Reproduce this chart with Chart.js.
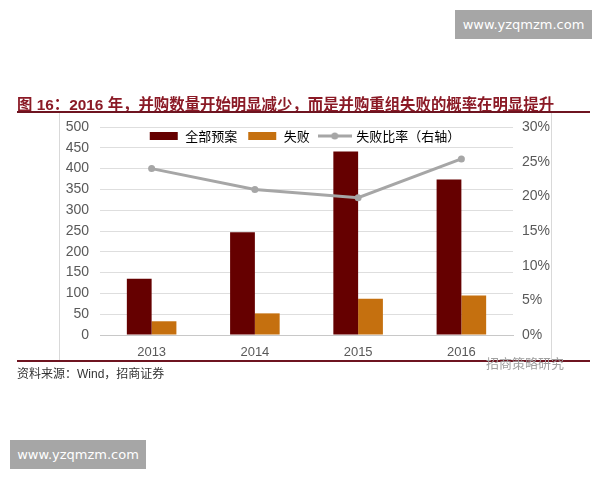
<!DOCTYPE html>
<html lang="zh">
<head>
    <meta charset="UTF-8">
    <title>并购重组</title>
    <script src="https://cdn.jsdelivr.net/npm/chart.js"></script>
    <style>
        body { margin: 0; background: #fff; }
        #wrap { position: relative; width: 600px; height: 480px; overflow: hidden;
                font-family: "Liberation Sans", "Noto Sans CJK SC", sans-serif; }
        #wrap canvas { position: absolute; left: 0; top: 0; }
        .abs { position: absolute; }
        .frame { left: 59px; top: 113px; width: 491px; height: 247px; border: 1px solid #d9d9d9; border-top: none; }
        .rule { left: 17px; width: 573px; height: 2px; background: #6e1420; }
        .title { left: 17px; top: 92px; font-size: 15.4px; font-weight: bold; color: #8b1a26; white-space: nowrap; }
        .source { left: 17px; top: 364px; font-size: 12px; color: #333; }
        .mark { left: 486px; top: 353px; font-size: 13px; color: #a0a0a0; }
        .site { background: #a6a6a6; color: #fff; font-family: "DejaVu Sans", sans-serif; font-size: 13px;
                line-height: 29px; text-align: center; height: 29px; }
    </style>
</head>
<body>
<div id="wrap">
    <div class="abs frame"></div>
    <canvas id="mnaChart" width="600" height="480"></canvas>
    <div class="abs title">图 16：2016 年，并购数量开始明显减少，而是并购重组失败的概率在明显提升</div>
    <div class="abs rule" style="top:111px"></div>
    <div class="abs rule" style="top:360px"></div>
    <div class="abs source">资料来源：Wind，招商证券</div>
    <div class="abs mark">招商策略研究</div>
    <div class="abs site" style="left:455px; top:10px; width:137px">www.yzqmzm.com</div>
    <div class="abs site" style="left:10px; top:440px; width:136px">www.yzqmzm.com</div>
</div>

<script>
// values
const years = ['2013', '2014', '2015', '2016'];
const allPlans = [135, 247, 441, 374];
const failed = [33, 52, 87, 95];
const failRate = [24.0, 21.0, 19.8, 25.4];
const seriesNames = ['全部预案', '失败', '失败比率（右轴）'];

const darkRed = '#650000';
const orange = '#c5700f';
const grey = '#a6a6a6';

function legendIcon(kind, color) {
    const c = document.createElement('canvas');
    c.width = 34; c.height = 10;
    const g = c.getContext('2d');
    if (kind === 'rect') {
        g.fillStyle = color;
        g.fillRect(3, 1, 28, 8);
    } else {
        g.strokeStyle = color;
        g.lineWidth = 3;
        g.beginPath(); g.moveTo(0, 5); g.lineTo(34, 5); g.stroke();
        g.fillStyle = color;
        g.beginPath(); g.arc(17, 5, 3.5, 0, Math.PI * 2); g.fill();
    }
    return c;
}
const icons = [legendIcon('rect', darkRed), legendIcon('rect', orange), legendIcon('line', grey)];

// legend sits inside the plot area in the original
const legendInside = {
    id: 'legendInside',
    afterLayout(chart) {
        const lg = chart.legend;
        const dy = 136 - (lg.top + lg.height / 2);
        const dx = 8;
        lg.top += dy; lg.bottom += dy;
        lg.left += dx; lg.right += dx;
    }
};

Chart.defaults.font.family = '"Liberation Sans", "Noto Sans CJK SC", sans-serif';
Chart.defaults.color = '#595959';

const ctx = document.getElementById('mnaChart').getContext('2d');
new Chart(ctx, {
    data: {
        labels: years,
        datasets: [
            { type: 'bar', label: seriesNames[0], data: allPlans, backgroundColor: darkRed,
              yAxisID: 'y', order: 1, categoryPercentage: 0.48, barPercentage: 1.0 },
            { type: 'bar', label: seriesNames[1], data: failed, backgroundColor: orange,
              yAxisID: 'y', order: 1, categoryPercentage: 0.48, barPercentage: 1.0 },
            { type: 'line', label: seriesNames[2], data: failRate, borderColor: grey, backgroundColor: grey,
              borderWidth: 3, pointRadius: 3.5, pointBackgroundColor: grey, pointBorderWidth: 0,
              yAxisID: 'y1', order: 0, tension: 0 }
        ]
    },
    options: {
        responsive: false,
        animation: false,
        layout: { padding: { left: 40, right: 47, top: 94, bottom: 117 } },
        plugins: {
            tooltip: { enabled: false },
            legend: {
                position: 'top',
                labels: {
                    usePointStyle: true,
                    pointStyleWidth: 30,
                    boxHeight: 8,
                    padding: 10,
                    color: '#595959',
                    font: { size: 13, family: '"Noto Sans CJK SC", sans-serif' },
                    generateLabels: () => seriesNames.map((name, i) => ({
                        text: name, pointStyle: icons[i], datasetIndex: i,
                        fillStyle: 'transparent', strokeStyle: 'transparent', lineWidth: 0, hidden: false
                    }))
                }
            }
        },
        scales: {
            x: {
                grid: { display: false },
                border: { display: true, color: '#c8c8c8', width: 1 },
                ticks: { font: { size: 13 }, padding: 2, color: '#595959' },
                afterFit(s) { s.height = 28; }
            },
            y: {
                position: 'left',
                min: 0, max: 500,
                ticks: { stepSize: 50, font: { size: 14 }, padding: 11, color: '#595959' },
                grid: { color: '#dedede', drawTicks: false },
                border: { display: false },
                afterFit(s) { s.width = 60; }
            },
            y1: {
                position: 'right',
                min: 0, max: 30,
                ticks: { stepSize: 5, font: { size: 14 }, padding: 9, color: '#595959',
                         callback: v => v + '%' },
                grid: { drawOnChartArea: false, drawTicks: false },
                border: { display: false },
                afterFit(s) { s.width = 40; }
            }
        }
    },
    plugins: [legendInside]
});
</script>
</body>
</html>
